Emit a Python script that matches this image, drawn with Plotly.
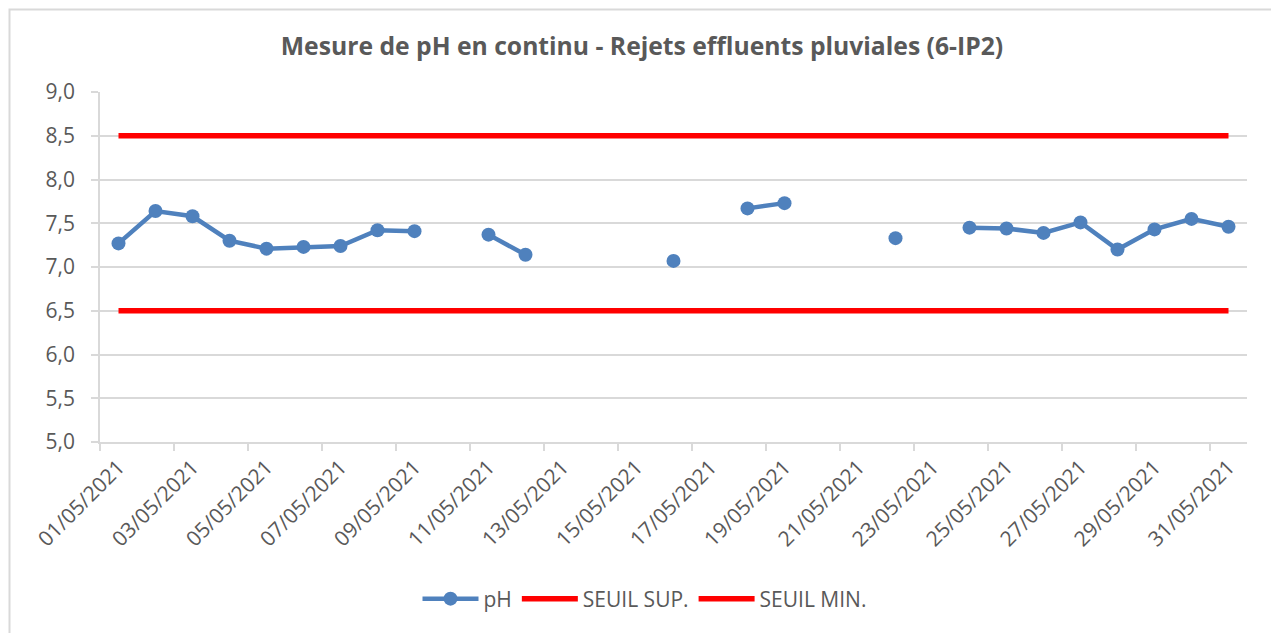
import plotly.graph_objects as go

dates = ["01/05/2021", "02/05/2021", "03/05/2021", "04/05/2021", "05/05/2021",
         "06/05/2021", "07/05/2021", "08/05/2021", "09/05/2021", "10/05/2021",
         "11/05/2021", "12/05/2021", "13/05/2021", "14/05/2021", "15/05/2021",
         "16/05/2021", "17/05/2021", "18/05/2021", "19/05/2021", "20/05/2021",
         "21/05/2021", "22/05/2021", "23/05/2021", "24/05/2021", "25/05/2021",
         "26/05/2021", "27/05/2021", "28/05/2021", "29/05/2021", "30/05/2021",
         "31/05/2021"]

ph = [7.27, 7.64, 7.58, 7.30, 7.21, 7.23, 7.24, 7.42, 7.41, None,
      7.37, 7.14, None, None, None, 7.07, None, 7.67, 7.73, None,
      None, 7.33, None, 7.45, 7.44, 7.39, 7.51, 7.20, 7.43, 7.55,
      7.46]

seuil_sup_value = 8.5
seuil_min_value = 6.5
seuil_sup = [seuil_sup_value] * len(dates)
seuil_min = [seuil_min_value] * len(dates)

x = list(range(len(dates)))

GRAY_TXT = "#595959"
GRID = "#D9D9D9"
FONT = "Open Sans"

# page body margin offset (8px)
OFF = 8
W, H = 1279, 633
PL, PR, PT, PB = 100 - OFF, 1247 - OFF, 92 - OFF, 442 - OFF  # plot area in figure px
PW, PH = PR - PL, PB - PT


def px_x(p):
    return (p - OFF - PL) / PW


def px_y(p):
    return (PB - (p - OFF)) / PH


fig = go.Figure()
fig.add_trace(go.Scatter(
    x=x, y=ph, name="pH", mode="lines+markers",
    line=dict(color="#4F81BD", width=4.5),
    marker=dict(color="#4F81BD", size=14),
    connectgaps=False,
))
fig.add_trace(go.Scatter(
    x=x, y=seuil_sup, name="SEUIL SUP.", mode="lines",
    line=dict(color="#FF0000", width=5.5),
))
fig.add_trace(go.Scatter(
    x=x, y=seuil_min, name="SEUIL MIN.", mode="lines",
    line=dict(color="#FF0000", width=5.5),
))

fig.update_layout(
    width=W, height=H,
    margin=dict(l=PL, r=W - PR, t=PT, b=H - PB),
    paper_bgcolor="white", plot_bgcolor="white",
    separators=", ",
    font=dict(family=FONT, size=21, color=GRAY_TXT),
    title=dict(
        text="<b>Mesure de pH en continu - Rejets effluents pluviales (6-IP2)</b>",
        font=dict(family=FONT, size=24.7, color=GRAY_TXT),
        x=(642 - OFF) / W, xref="container", xanchor="center",
        y=1 - (46 - OFF) / H, yref="container", yanchor="middle",
    ),
    showlegend=True,
    legend=dict(
        orientation="h", x=px_x(644.5), xanchor="center",
        y=px_y(599), yanchor="middle",
        font=dict(family=FONT, size=21, color=GRAY_TXT),
        itemwidth=56, traceorder="normal",
    ),
    xaxis=dict(
        range=[-0.5, len(dates) - 0.5],
        tickmode="array", tickvals=x[::2], ticktext=dates[::2],
        tickangle=-45, ticks="", showgrid=False, zeroline=False,
        showline=True, linecolor=GRID, linewidth=1.5,
        tickfont=dict(family=FONT, size=21, color=GRAY_TXT),
        ticklabelstandoff=3,
        minor=dict(ticks="outside", ticklen=7, tickcolor=GRID, tickwidth=1.5,
                   tick0=-0.5, dtick=2, showgrid=False),
    ),
    yaxis=dict(
        range=[5, 9], dtick=0.5, tick0=5, tickformat=".1f",
        showgrid=True, gridcolor=GRID, gridwidth=1.5, zeroline=False,
        showline=True, linecolor=GRID, linewidth=1.5,
        ticks="outside", ticklen=7, tickcolor=GRID, tickwidth=1.5,
        tickfont=dict(family=FONT, size=21, color=GRAY_TXT),
        ticklabelstandoff=12,
    ),
    shapes=[dict(
        type="rect", xref="paper", yref="paper",
        x0=px_x(OFF + 1.5), x1=px_x(1277),
        y0=px_y(660), y1=px_y(OFF + 1.5),
        line=dict(color=GRID, width=2), fillcolor="rgba(0,0,0,0)",
        layer="above",
    )],
)

fig.write_html("out.html")
